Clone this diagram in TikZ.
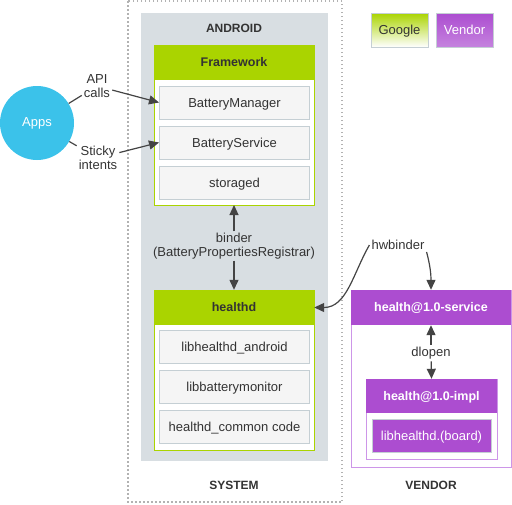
\documentclass[tikz,border=0pt]{standalone}
\usepackage{fontspec}
\setmainfont{Liberation Sans}
\usetikzlibrary{arrows.meta}
\definecolor{fwgreen}{RGB}{170,212,0}
\definecolor{vdpurple}{RGB}{172,77,208}
\definecolor{vdline}{RGB}{205,150,232}
\definecolor{andgrey}{RGB}{216,222,226}
\definecolor{itemfill}{RGB}{245,245,245}
\definecolor{itemline}{RGB}{197,207,212}
\definecolor{txt}{RGB}{51,51,51}
\definecolor{arrgrey}{RGB}{68,68,68}
\definecolor{appsblue}{RGB}{59,194,234}
\begin{document}
\begin{tikzpicture}[x=1pt,y=-1pt,
    txtfont/.style={font=\fontsize{13}{14.5}\selectfont},
    item/.style={txtfont,draw=itemline,line width=1pt,fill=itemfill,minimum width=150pt,minimum height=33pt,inner sep=0pt,text height=9pt,text depth=0pt,text=txt},
    head/.style={minimum width=160pt,minimum height=35pt,inner sep=0pt,text height=8.5pt,text depth=0pt,font=\fontsize{12.5}{14}\selectfont\bfseries},
    title/.style={font=\fontsize{12}{14}\selectfont\bfseries,text=txt},
    arr/.style={draw=arrgrey,line width=1.2pt,-{Triangle[length=10pt,width=9pt]}},
    link/.style={draw=arrgrey,line width=1.2pt},
    lbl/.style={txtfont,text=txt,align=center,inner sep=2pt}]
  \useasboundingbox (0,0) rectangle (512,504);
  % system and android
  \draw[gray!60,line width=1.5pt,dash pattern=on 1.5pt off 2.5pt] (128,1) rectangle (342,502);
  \fill[andgrey] (141,13) rectangle (328,461);
  \node[title] (android) at (234,28) {ANDROID};
  \node[title] (system) at (234,485) {SYSTEM};
  % framework
  \draw[fwgreen,fill=white,line width=1pt] (154,45) rectangle (314,205);
  \node[head,fill=fwgreen,text=txt] (fw) at (234,62.5) {Framework};
  \node[item] (bm) at (234.5,102.5) {BatteryManager};
  \node[item] (bs) at (234.5,142.5) {BatteryService};
  \node[item] (st) at (234.5,182.5) {storaged};
  \coordinate (fwbot) at (234,205);
  % healthd
  \draw[fwgreen,fill=white,line width=1pt] (154,290) rectangle (314,450);
  \node[head,fill=fwgreen,text=txt] (hd) at (234,307.5) {healthd};
  \node[item] (lha) at (234.5,346.5) {libhealthd\_android};
  \node[item] (lbm) at (234.5,386.5) {libbatterymonitor};
  \node[item] (hcc) at (234.5,426.5) {healthd\_common code};
  \node[lbl,inner sep=1pt] (binder) at (234,246) {binder\\(BatteryPropertiesRegistrar)};
  \draw[arr] (binder) -- (fwbot);
  \draw[arr] (binder) -- (hd.north);
  % apps
  \node[circle,fill=appsblue,minimum size=74pt,inner sep=0pt,text=white,txtfont] (apps) at (37,123) {Apps};
  \node[lbl] (api) at (97,86) {API\\calls};
  \node[lbl] (sticky) at (98,158) {Sticky\\intents};
  \draw[link] (apps) -- (api);
  \draw[link] (apps) -- (sticky);
  \draw[arr] (api) -- (bm.west);
  \draw[arr] (sticky) -- (bs.west);
  % vendor
  \draw[vdline,fill=white,line width=1pt] (351,290) rectangle (511,467);
  \node[head,fill=vdpurple,text=white] (svc) at (431,307.5) {health@1.0-service};
  \draw[vdline,fill=white,line width=1pt] (366,379) rectangle (497,459);
  \node[head,minimum width=131pt,minimum height=34pt,fill=vdpurple,text=white] (impl) at (431.5,396) {health@1.0-impl};
  \node[txtfont,draw=itemline,line width=1pt,fill=vdpurple,text=white,minimum width=119pt,minimum height=33pt,inner sep=0pt,text height=9pt,text depth=0pt] (board) at (431.5,435.5) {libhealthd.(board)};
  \node[lbl] (dlopen) at (431,353) {dlopen};
  \draw[arr] (dlopen) -- (svc.south);
  \draw[arr] (dlopen) -- (impl.north);
  \node[title] (vendor) at (431,485) {VENDOR};
  \node[lbl] (hw) at (398,245) {hwbinder};
  \draw[arr] (hw.south east) to[out=-75,in=90] (svc.north);
  \draw[arr] (hw.west) to[out=-120,in=0] (hd.east);
  % legend
  \node[txtfont,draw=itemline,line width=1pt,top color=fwgreen,bottom color=white,text=txt,minimum width=57pt,minimum height=34pt,inner sep=0pt,text height=9pt,text depth=0pt] (google) at (399.5,30) {Google};
  \node[txtfont,draw=itemline,line width=1pt,top color=vdpurple,bottom color=vdpurple!70!white,text=white,minimum width=57pt,minimum height=34pt,inner sep=0pt,text height=9pt,text depth=0pt] (vend) at (464.5,30) {Vendor};
\end{tikzpicture}
\end{document}
